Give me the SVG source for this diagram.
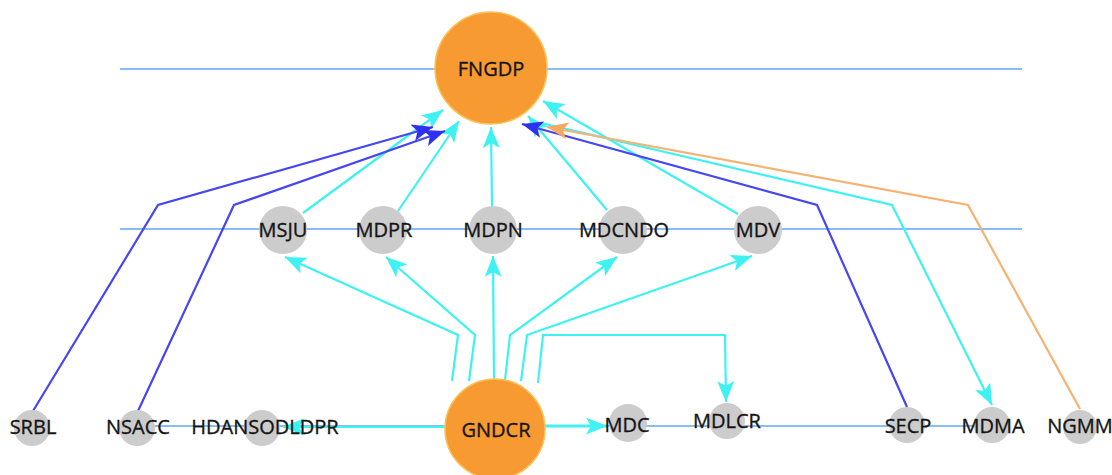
<svg xmlns="http://www.w3.org/2000/svg" width="1112" height="475" viewBox="0 0 1112 475">
<style>
  .layer { stroke: #8cbcf5; stroke-width: 2; fill: none; }
  .e { fill: none; stroke-width: 2.2; stroke-linejoin: miter; }
  .cy { stroke: #3ef2f2; }
  .bl { stroke: #4646f2; }
  .or { stroke: #f5b272; }
  .big { fill: #f89a32; stroke: #f9c35a; stroke-width: 1.5; }
  .sm { fill: #cccccc; }
  text { font-family: "Open Sans", "Liberation Sans", sans-serif; font-size: 20px; fill: #151515; stroke: #151515; stroke-width: 0.35; text-anchor: middle; }
</style>
<defs>
  <marker id="acy" markerUnits="userSpaceOnUse" markerWidth="21" markerHeight="17" viewBox="0 0 21 17" refX="21" refY="8.5" orient="auto">
    <path d="M0,0 L21,8.5 L0,17 L5,8.5 Z" fill="#3ef2f2"/>
  </marker>
  <marker id="abl" markerUnits="userSpaceOnUse" markerWidth="21" markerHeight="17" viewBox="0 0 21 17" refX="21" refY="8.5" orient="auto">
    <path d="M0,0 L21,8.5 L0,17 L5,8.5 Z" fill="#3030f0"/>
  </marker>
  <marker id="aor" markerUnits="userSpaceOnUse" markerWidth="21" markerHeight="17" viewBox="0 0 21 17" refX="21" refY="8.5" orient="auto">
    <path d="M0,0 L21,8.5 L0,17 L5,8.5 Z" fill="#f5a860"/>
  </marker>
</defs>
<rect width="1112" height="475" fill="#ffffff"/>
<g id="layers">
  <line class="layer" x1="120" y1="69" x2="1022" y2="69"/>
  <line class="layer" x1="120" y1="229" x2="1022" y2="229"/>
  <line class="layer" x1="137" y1="426" x2="992" y2="426"/>
</g>
<g id="connectors">
  <path class="e cy" d="M452,381 L458,335 L285,257" marker-end="url(#acy)"/>
  <path class="e cy" d="M469,381 L475,335 L386,257" marker-end="url(#acy)"/>
  <path class="e cy" d="M494,379 L493,256" marker-end="url(#acy)"/>
  <path class="e cy" d="M505,380 L510,335 L617,257" marker-end="url(#acy)"/>
  <path class="e cy" d="M521,381 L527,335 L752,256" marker-end="url(#acy)"/>
  <path class="e cy" d="M538,383 L543,335 L725,335 L726,402" marker-end="url(#acy)"/>
  <path class="e cy" style="stroke-width:3" d="M545,426 L607,426" marker-end="url(#acy)"/>
  <path class="e cy" d="M445,427 L283,427" marker-end="url(#acy)"/>
  <path class="e cy" d="M303,213 L443,110" marker-end="url(#acy)"/>
  <path class="e cy" d="M398,211 L459,121" marker-end="url(#acy)"/>
  <path class="e cy" d="M492,206 L491,127" marker-end="url(#acy)"/>
  <path class="e cy" d="M607,210 L528,116" marker-end="url(#acy)"/>
  <path class="e cy" d="M738,214 L543,101" marker-end="url(#acy)"/>
  <path class="e cy" d="M541,123 L892,205 L992,405" marker-end="url(#acy)"/>
  <path class="e bl" d="M33,411 L158,205 L433,127" marker-end="url(#abl)"/>
  <path class="e bl" d="M138,411 L234,205 L445,131" marker-end="url(#abl)"/>
  <path class="e bl" d="M907,407 L817,205 L522,124" marker-end="url(#abl)"/>
  <path class="e or" d="M1080,409 L968,205 L547,127" marker-end="url(#aor)"/>
</g>
<g id="FNGDP"><circle class="big" cx="491" cy="68" r="56"/><text x="491" y="76">FNGDP</text></g>
<g id="GNDCR"><circle class="big" cx="495" cy="429" r="50"/><text x="496" y="437">GNDCR</text></g>
<g id="MSJU"><circle class="sm" cx="283" cy="230" r="24"/><text x="283" y="237">MSJU</text></g>
<g id="MDPR"><circle class="sm" cx="383" cy="230" r="24"/><text x="384" y="237">MDPR</text></g>
<g id="MDPN"><circle class="sm" cx="493" cy="230" r="24"/><text x="493" y="237">MDPN</text></g>
<g id="MDCNDO"><circle class="sm" cx="623" cy="230" r="24"/><text x="624" y="237">MDCNDO</text></g>
<g id="MDV"><circle class="sm" cx="758" cy="230" r="24"/><text x="758" y="237">MDV</text></g>
<g id="SRBL"><circle class="sm" cx="32" cy="428" r="18"/><text x="33" y="434">SRBL</text></g>
<g id="NSACC"><circle class="sm" cx="137" cy="428" r="18"/><text x="138" y="434">NSACC</text></g>
<g id="HDANSODLDPR"><circle class="sm" cx="262" cy="428" r="18"/><text x="265" y="434">HDANSODLDPR</text></g>
<g id="MDC"><circle class="sm" cx="628" cy="423" r="19"/><text x="627" y="432">MDC</text></g>
<g id="MDLCR"><circle class="sm" cx="727" cy="421" r="18"/><text x="727" y="428">MDLCR</text></g>
<g id="SECP"><circle class="sm" cx="907" cy="425" r="18"/><text x="908" y="433">SECP</text></g>
<g id="MDMA"><circle class="sm" cx="992" cy="425" r="18"/><text x="993" y="433">MDMA</text></g>
<g id="NGMM"><circle class="sm" cx="1080" cy="427" r="17"/><text x="1080" y="433">NGMM</text></g>
</svg>
